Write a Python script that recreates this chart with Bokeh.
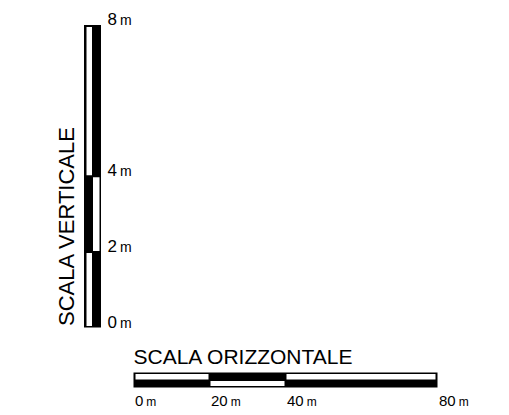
import numpy as np
from bokeh.plotting import figure
from bokeh.models import Range1d, ColumnDataSource
from bokeh.core.properties import value
from bokeh.embed import file_html
from bokeh.resources import INLINE

# ---- data ----
V_TICKS = [0, 2, 4, 8]
V_LABELS = ["0", "2", "4", "8"]
H_TICKS = [0, 20, 40, 80]
H_LABELS = ["0", "20", "40", "80"]
UNIT = "m"
V_TITLE = "SCALA VERTICALE"
H_TITLE = "SCALA ORIZZONTALE"

# ---- layout ----
W, H = 509, 415
HX0, HK = 133.0, 3.8    # canvas px of 0 m (horizontal scale), px per metre
VY0, VK = 327.0, 37.8   # canvas px of 0 m (vertical scale), px per metre
MID = 0.35              # middle-baseline shift as a fraction of font size


def xd(px):
    return (px - HX0) / HK


def yd(py):
    return (VY0 - py) / VK


p = figure(width=W, height=H, x_range=Range1d(xd(0), xd(W)),
           y_range=Range1d(yd(H), yd(0)), output_backend="svg",
           toolbar_location=None, min_border=0)
p.axis.visible = False
p.grid.visible = False
p.outline_line_color = None
p.background_fill_color = "white"
p.border_fill_color = "white"

SANS = value("Liberation Sans")

# ---- vertical bar ----
nv = len(V_TICKS) - 1
p.quad(left=[xd(83.5)], right=[xd(100.5)], bottom=[V_TICKS[0]], top=[V_TICKS[-1]],
       fill_color="black", line_color=None)
vl, vr, vb, vt = [], [], [], []
for i in range(nv):
    lo = V_TICKS[i] + (1.5 if i == 0 else 1.0) / VK
    hi = V_TICKS[i + 1] - (2.0 if i == nv - 1 else 1.0) / VK
    if i % 2 == 0:
        vl.append(xd(86)); vr.append(xd(91.5))
    else:
        vl.append(xd(92.5)); vr.append(xd(99))
    vb.append(lo); vt.append(hi)
p.quad(left=vl, right=vr, bottom=vb, top=vt, fill_color="white", line_color=None)

# ---- horizontal bar ----
nh = len(H_TICKS) - 1
p.quad(left=[H_TICKS[0]], right=[H_TICKS[-1]], bottom=[yd(387)], top=[yd(372)],
       fill_color="black", line_color=None)
hl, hr, hb, ht = [], [], [], []
for i in range(nh):
    lo = H_TICKS[i] + (2.0 if i == 0 else 1.0) / HK
    hi = H_TICKS[i + 1] - (2.0 if i == nh - 1 else 1.0) / HK
    hl.append(lo); hr.append(hi)
    if i % 2 == 0:
        ht.append(yd(373.5)); hb.append(yd(379))
    else:
        ht.append(yd(380.5)); hb.append(yd(385.5))
p.quad(left=hl, right=hr, bottom=hb, top=ht, fill_color="white", line_color=None)

# ---- vertical labels ----
VD, VU = 17, 14
vsrc = ColumnDataSource(dict(y=V_TICKS, t=V_LABELS, u=[UNIT] * len(V_TICKS)))
p.text(x=xd(107.0), y="y", text="t", source=vsrc, y_offset=-MID * VD, text_font=SANS,
       text_font_size=f"{VD}px", text_align="left", text_baseline="middle",
       text_color="black")
p.text(x=xd(119.5), y="y", text="u", source=vsrc, y_offset=-MID * VU, text_font=SANS,
       text_font_size=f"{VU}px", text_align="left", text_baseline="middle",
       text_color="black")

# ---- horizontal labels ----
HD, HU = 15, 12
HBASE = 405.7
hsrc = ColumnDataSource(dict(x=H_TICKS, t=H_LABELS, u=[UNIT] * len(H_TICKS),
                             uo=[1.5 + len(s) * 0.556 * HD + 3 for s in H_LABELS]))
p.text(x="x", y=yd(HBASE - MID * HD), text="t", source=hsrc, x_offset=1.5,
       text_font=SANS, text_font_size=f"{HD}px", text_align="left",
       text_baseline="middle", text_color="black")
p.text(x="x", y=yd(HBASE - MID * HU), text="u", source=hsrc, x_offset="uo",
       text_font=SANS, text_font_size=f"{HU}px", text_align="left",
       text_baseline="middle", text_color="black")

# ---- titles ----
p.text(x=[H_TICKS[0]], y=[yd(363.3 - MID * 21)], text=[H_TITLE], text_font=SANS,
       text_font_size="21px", text_align="left", text_baseline="middle",
       text_color="black")
p.text(x=[xd(74 - MID * 22)], y=[yd(325.5)], text=[V_TITLE], angle=np.pi / 2,
       text_font=SANS, text_font_size="22px", text_align="left",
       text_baseline="middle", text_color="black")

open("out.html", "w").write(file_html(p, INLINE))
